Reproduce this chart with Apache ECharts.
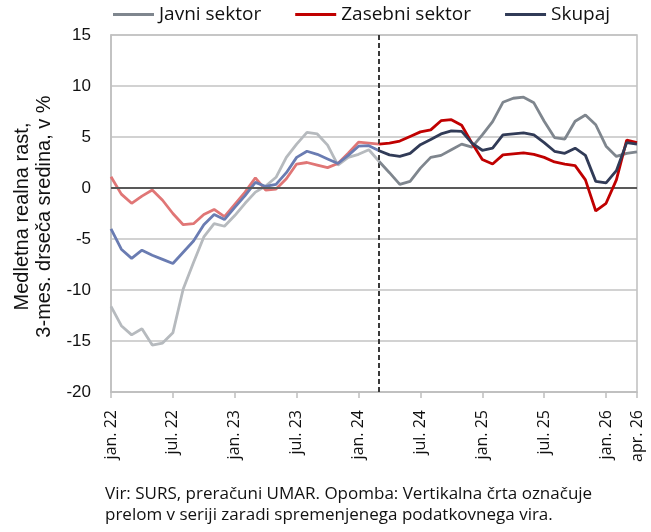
<!DOCTYPE html>
<html>
<head>
<meta charset="utf-8">
<script src="https://cdn.jsdelivr.net/npm/echarts@6/dist/echarts.min.js"></script>
<style>
  html, body { margin: 0; padding: 0; background: #fff; }
  #main { width: 651px; height: 532px; }
</style>
</head>
<body>
<div id="main"></div>
<script>
// meseci in leta za os x
var monthNames = ['jan.', 'feb.', 'mar.', 'apr.', 'maj', 'jun.', 'jul.', 'avg.', 'sep.', 'okt.', 'nov.', 'dec.']
var years = ['22', '23', '24', '25', '26']
var categories = []
for (var y = 0; y < years.length; y++) {
    for (var m = 0; m < 12; m++) {
        if (categories.length < 52) categories.push(monthNames[m] + ' ' + years[y])
    }
}
// prelom v seriji (mar. 24)
var breakIndex = 26

var javni = [-11.6, -13.5, -14.4, -13.8, -15.4, -15.2, -14.2, -9.9, -7.3, -4.8, -3.5, -3.75,
    -2.7, -1.5, -0.4, 0.2, 1.05, 3.0, 4.3, 5.45, 5.3, 4.2, 2.25, 3.0,
    3.3, 3.75, 2.6, 1.5, 0.35, 0.65, 1.95, 3.0, 3.2, 3.75, 4.3, 4.0,
    5.2, 6.5, 8.4, 8.8, 8.9, 8.35, 6.55, 4.95, 4.8, 6.55, 7.15, 6.2,
    4.1, 3.1, 3.4, 3.55]
var zasebni = [1.1, -0.6, -1.5, -0.8, -0.2, -1.2, -2.5, -3.6, -3.5, -2.6, -2.1, -2.8,
    -1.6, -0.4, 1.0, -0.2, -0.1, 0.9, 2.35, 2.5, 2.25, 2.0, 2.4, 3.4,
    4.5, 4.4, 4.3, 4.4, 4.6, 5.05, 5.5, 5.7, 6.6, 6.7, 6.15, 4.4,
    2.8, 2.35, 3.25, 3.35, 3.45, 3.3, 3.0, 2.55, 2.35, 2.2, 0.8, -2.25,
    -1.5, 0.8, 4.7, 4.45]
var skupaj = [-4.0, -6.0, -6.9, -6.1, -6.6, -7.0, -7.4, -6.3, -5.2, -3.6, -2.6, -3.1,
    -1.9, -0.75, 0.55, 0.15, 0.35, 1.5, 3.0, 3.6, 3.3, 2.85, 2.4, 3.2,
    4.1, 4.15, 3.65, 3.25, 3.1, 3.4, 4.25, 4.75, 5.3, 5.6, 5.55, 4.4,
    3.7, 3.9, 5.2, 5.3, 5.4, 5.2, 4.45, 3.6, 3.4, 3.9, 3.2, 0.65,
    0.5, 1.7, 4.45, 4.3]

var names = ['Javni sektor', 'Zasebni sektor', 'Skupaj']
var darkColors = ['#7f868e', '#c00000', '#313b57']
var lightColors = ['#b6babe', '#e07676', '#6a7cb2']

var footnote = 'Vir: SURS, preračuni UMAR. Opomba: Vertikalna črta označuje\nprelom v seriji zaradi spremenjenega podatkovnega vira.'

function before(arr) {
    return arr.map(function (v, i) { return i <= breakIndex ? v : null })
}
function after(arr) {
    return arr.map(function (v, i) { return i >= breakIndex ? v : null })
}
function showTick(i) {
    return i % 6 === 0 || i === categories.length - 1
}

var font = '"Open Sans", Roboto, sans-serif'
var arial = '"Liberation Sans", Arial, sans-serif'
var all = [javni, zasebni, skupaj]
var series = []
for (var i = 0; i < all.length; i++) {
    series.push({
        name: names[i] + ' (staro)',
        type: 'line',
        data: before(all[i]),
        symbol: 'none',
        color: lightColors[i],
        lineStyle: { width: 2.8, color: lightColors[i] },
        z: 2 + i
    })
}
for (var i = 0; i < all.length; i++) {
    series.push({
        name: names[i],
        type: 'line',
        data: after(all[i]),
        symbol: 'none',
        color: darkColors[i],
        lineStyle: { width: 2.8, color: darkColors[i] },
        z: 5 + i
    })
}
// ničelna črta in prelom
series.push({
    name: 'oznake',
    type: 'line',
    data: [],
    markLine: {
        silent: true,
        symbol: 'none',
        label: { show: false },
        data: [
            { yAxis: 0, lineStyle: { color: '#595959', width: 2, type: 'solid' } },
            { xAxis: categories[breakIndex], lineStyle: { color: '#3a3a3a', width: 2, type: [5, 3] } }
        ]
    },
    z: 1
})

var myChart = echarts.init(document.getElementById('main'))
var option = {
    animation: false,
    textStyle: { fontFamily: font },
    grid: { left: 111, right: 14, top: 35, bottom: 140, show: true, borderColor: '#bfbfbf', borderWidth: 1.5 },
    legend: {
        data: names,
        left: 108,
        top: 0,
        icon: 'rect',
        itemWidth: 41,
        itemHeight: 3,
        itemGap: 34,
        textStyle: { fontFamily: font, fontSize: 19, color: '#111' }
    },
    xAxis: {
        type: 'category',
        data: categories,
        boundaryGap: false,
        axisLine: { onZero: false, lineStyle: { color: '#bfbfbf', width: 1.5 } },
        axisTick: { interval: showTick, length: 6, lineStyle: { color: '#bfbfbf', width: 1.5 } },
        axisLabel: { interval: showTick, rotate: 90, margin: 18, fontSize: 16, color: '#111', fontFamily: font }
    },
    yAxis: {
        type: 'value',
        min: -20,
        max: 15,
        interval: 5,
        name: 'Medletna realna rast,\n3-mes. drseča sredina, v %',
        nameLocation: 'middle',
        nameRotate: 90,
        nameGap: 56,
        nameTextStyle: { fontSize: 20, lineHeight: 22, color: '#111', fontFamily: arial, padding: [0, 6, 0, 0] },
        axisLine: { show: true, lineStyle: { color: '#bfbfbf', width: 1.5 } },
        axisTick: { show: false },
        axisLabel: { fontSize: 17, margin: 20, color: '#111', fontFamily: arial },
        splitLine: { lineStyle: { color: '#c3c3c3', width: 1.5 } }
    },
    graphic: [{
        type: 'text',
        left: 105,
        top: 484,
        style: { text: footnote, font: '17px ' + font, fill: '#111', lineHeight: 21 }
    }],
    series: series
}
myChart.setOption(option)
</script>
</body>
</html>
